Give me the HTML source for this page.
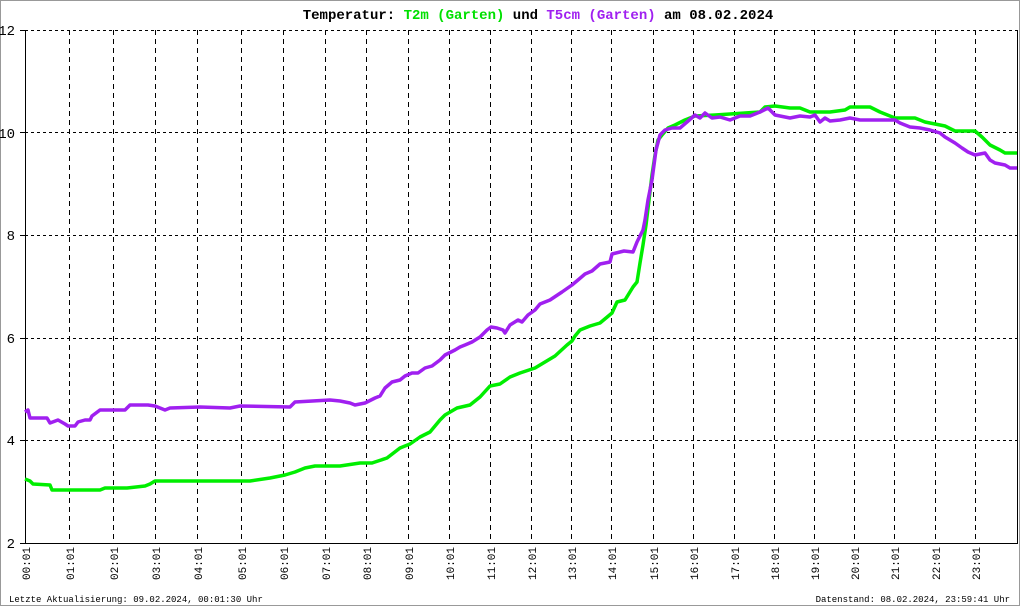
<!DOCTYPE html>
<html><head><meta charset="utf-8"><style>
html,body{margin:0;padding:0;background:#fff}
svg{display:block}
text{font-family:"Liberation Mono","DejaVu Sans Mono",monospace}
</style></head><body>
<svg width="1020" height="606" viewBox="0 0 1020 606" xmlns="http://www.w3.org/2000/svg">
<rect x="0.5" y="0.5" width="1019" height="605" fill="#fff" stroke="#999"/>
<text x="538" y="19" text-anchor="middle" font-size="14" font-weight="bold" fill="#000">Temperatur: <tspan fill="#00e000">T2m (Garten)</tspan> und <tspan fill="#a020f0">T5cm (Garten)</tspan> am 08.02.2024</text>
<g stroke="#000" stroke-width="1" stroke-dasharray="3,3">
<line x1="25" y1="30.5" x2="1017" y2="30.5"/>
<line x1="25" y1="132.5" x2="1017" y2="132.5"/>
<line x1="25" y1="235.5" x2="1017" y2="235.5"/>
<line x1="25" y1="338.5" x2="1017" y2="338.5"/>
<line x1="25" y1="440.5" x2="1017" y2="440.5"/>
<g stroke-dasharray="5,4">
<line x1="69.5" y1="30" x2="69.5" y2="543"/><line x1="113.5" y1="30" x2="113.5" y2="543"/>
<line x1="155.5" y1="30" x2="155.5" y2="543"/><line x1="197.5" y1="30" x2="197.5" y2="543"/>
<line x1="241.5" y1="30" x2="241.5" y2="543"/><line x1="283.5" y1="30" x2="283.5" y2="543"/>
<line x1="325.5" y1="30" x2="325.5" y2="543"/><line x1="366.5" y1="30" x2="366.5" y2="543"/>
<line x1="408.5" y1="30" x2="408.5" y2="543"/><line x1="449.5" y1="30" x2="449.5" y2="543"/>
<line x1="490.5" y1="30" x2="490.5" y2="543"/><line x1="531.5" y1="30" x2="531.5" y2="543"/>
<line x1="571.5" y1="30" x2="571.5" y2="543"/><line x1="611.5" y1="30" x2="611.5" y2="543"/>
<line x1="653.5" y1="30" x2="653.5" y2="543"/><line x1="693.5" y1="30" x2="693.5" y2="543"/>
<line x1="734.5" y1="30" x2="734.5" y2="543"/><line x1="774.5" y1="30" x2="774.5" y2="543"/>
<line x1="814.5" y1="30" x2="814.5" y2="543"/><line x1="854.5" y1="30" x2="854.5" y2="543"/>
<line x1="894.5" y1="30" x2="894.5" y2="543"/><line x1="935.5" y1="30" x2="935.5" y2="543"/>
<line x1="975.5" y1="30" x2="975.5" y2="543"/>
</g></g>
<line x1="1017.5" y1="30" x2="1017.5" y2="543" stroke="#000"/>
<line x1="25.5" y1="30" x2="25.5" y2="544" stroke="#000" stroke-width="1"/>
<line x1="20" y1="543.5" x2="1018" y2="543.5" stroke="#000"/>
<g stroke="#000"><line x1="20" y1="30.5" x2="25" y2="30.5"/><line x1="20" y1="132.5" x2="25" y2="132.5"/><line x1="20" y1="235.5" x2="25" y2="235.5"/><line x1="20" y1="338.5" x2="25" y2="338.5"/><line x1="20" y1="440.5" x2="25" y2="440.5"/></g>
<g font-size="14" text-anchor="end" fill="#000">
<text x="15" y="35">12</text><text x="15" y="138">10</text><text x="15" y="240">8</text><text x="15" y="343">6</text><text x="15" y="445">4</text><text x="15" y="548">2</text>
</g>
<g font-size="11" fill="#000">
<text transform="translate(30,580) rotate(-90)">00:01</text>
<text transform="translate(74,580) rotate(-90)">01:01</text>
<text transform="translate(118,580) rotate(-90)">02:01</text>
<text transform="translate(160,580) rotate(-90)">03:01</text>
<text transform="translate(202,580) rotate(-90)">04:01</text>
<text transform="translate(246,580) rotate(-90)">05:01</text>
<text transform="translate(288,580) rotate(-90)">06:01</text>
<text transform="translate(330,580) rotate(-90)">07:01</text>
<text transform="translate(371,580) rotate(-90)">08:01</text>
<text transform="translate(413,580) rotate(-90)">09:01</text>
<text transform="translate(454,580) rotate(-90)">10:01</text>
<text transform="translate(495,580) rotate(-90)">11:01</text>
<text transform="translate(536,580) rotate(-90)">12:01</text>
<text transform="translate(576,580) rotate(-90)">13:01</text>
<text transform="translate(616,580) rotate(-90)">14:01</text>
<text transform="translate(658,580) rotate(-90)">15:01</text>
<text transform="translate(698,580) rotate(-90)">16:01</text>
<text transform="translate(739,580) rotate(-90)">17:01</text>
<text transform="translate(779,580) rotate(-90)">18:01</text>
<text transform="translate(819,580) rotate(-90)">19:01</text>
<text transform="translate(859,580) rotate(-90)">20:01</text>
<text transform="translate(899,580) rotate(-90)">21:01</text>
<text transform="translate(940,580) rotate(-90)">22:01</text>
<text transform="translate(980,580) rotate(-90)">23:01</text>
</g>
<text x="9" y="602" font-size="9" fill="#000">Letzte Aktualisierung: 09.02.2024, 00:01:30 Uhr</text>
<text x="1010" y="602" font-size="9" fill="#000" text-anchor="end">Datenstand: 08.02.2024, 23:59:41 Uhr</text>
<polyline fill="none" stroke="#00ee00" stroke-width="3.5" stroke-linejoin="round" points="25,479 30,481 33,484 50,485 52,490 100,490 105,488 127,488 145,486 150,484 155,481 250,481 270,478 285,475 295,472 305,468 315,466 340,466 360,463 372,463 387,458 400,448 410,444 420,437 430,432 440,420 445,415 457,408 470,405 480,397 490,386 500,384 510,377 520,373 535,368 545,362 555,356 567,345 572,341 575,336 580,330 590,326 600,323 612,313 617,302 625,300 633,287 637,282 640,263 643,245 646,225 649,200 652,175 655,155 658,140 662,135 668,128 675,125 685,120 695,116 715,115 760,112 765,107 775,106 790,108 800,108 810,112 830,112 845,110 850,107 870,107 880,112 895,118 915,118 925,122 945,126 955,131 975,131 982,137 990,145 1000,150 1005,153 1017,153"/>
<polyline fill="none" stroke="#a020f0" stroke-width="3.5" stroke-linejoin="round" points="25,412 28,410 30,418 47,418 50,423 58,420 65,424 68,426 75,426 78,422 85,420 90,420 92,416 100,410 125,410 130,405 148,405 155,406 165,410 170,408 200,407 230,408 240,406 290,407 295,402 330,400 340,401 350,403 355,405 365,403 375,398 380,396 385,388 392,382 400,380 405,376 412,373 418,373 425,368 432,366 440,360 445,355 455,350 460,347 465,345 472,342 480,337 487,330 491,327 497,328 503,330 505,333 510,325 518,320 522,322 528,315 535,310 540,304 550,300 556,296 562,292 572,285 578,280 585,274 592,271 600,264 610,262 612,254 624,251 633,252 637,242 643,230 645,220 648,200 652,180 656,150 660,135 665,130 672,128 680,128 687,122 695,115 700,118 705,113 712,118 720,117 730,120 740,116 750,116 760,112 768,108 775,115 790,118 800,116 810,117 815,115 820,122 825,118 830,121 840,120 850,118 860,120 895,120 900,123 910,127 920,128 930,130 940,133 945,137 955,143 962,148 968,152 975,155 985,153 990,160 995,163 1005,165 1010,168 1017,168"/>
</svg>
</body></html>
